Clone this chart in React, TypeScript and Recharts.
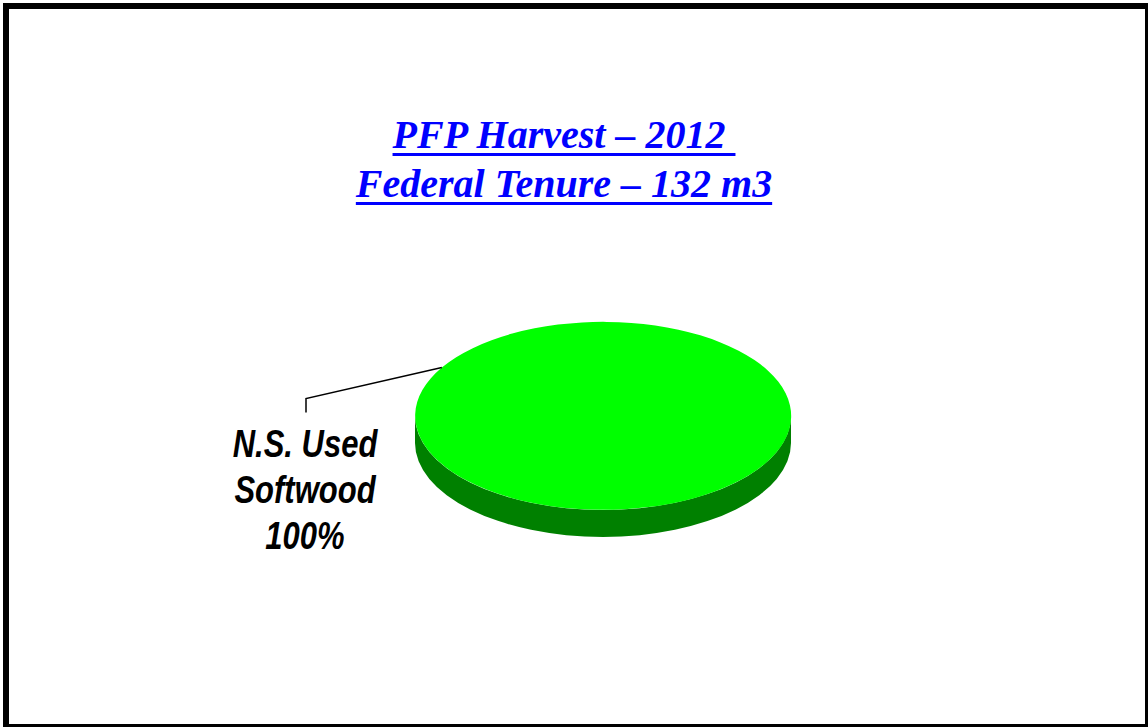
import React from "react"
import { Pie, PieChart, Sector } from "recharts"

// harvest by species group, federal tenure 2012 (m3 share)
const categories = ["N.S. Used Softwood"]
const shares = [100]
const titleLines = ["PFP Harvest \u2013 2012\u00a0", "Federal Tenure \u2013 132 m3"]

const data = categories.map((name, i) => ({ name, value: shares[i] }))

const W = 1148
const H = 727
const TILT = 0.5 // vertical squash of the pie face
const DEPTH = 27 // thickness of the disc
const TOP = "#00FF00"
const SIDE = "#008000"

function DiscSlice(props: any) {
  const { cx, cy, outerRadius } = props
  const r = outerRadius
  const ry = r * TILT
  const side = [
    `M ${cx - r} ${cy}`,
    `L ${cx - r} ${cy + DEPTH}`,
    `A ${r} ${ry} 0 0 0 ${cx + r} ${cy + DEPTH}`,
    `L ${cx + r} ${cy}`,
    `A ${r} ${ry} 0 0 1 ${cx - r} ${cy}`,
    "Z",
  ].join(" ")
  return (
    <g>
      <path d={side} fill={SIDE} />
      <g transform={`translate(0 ${cy}) scale(1 ${TILT}) translate(0 ${-cy})`}>
        <Sector {...props} fill={TOP} stroke="none" />
      </g>
    </g>
  )
}

const LABEL_X = 305
const LABEL_Y = 457
const LABEL_GAP = 46

function SliceLabel(props: any) {
  const { cx, cy, midAngle, outerRadius, name, percent } = props
  const rad = (midAngle * Math.PI) / 180
  const ax = cx + outerRadius * Math.cos(rad)
  const ay = cy - outerRadius * Math.sin(rad) * TILT
  const words = String(name).split(" ")
  const lines = [words.slice(0, 2).join(" "), words.slice(2).join(" "), `${Math.round(percent * 100)}%`]
  return (
    <g>
      <polyline
        points={`${ax},${ay} ${LABEL_X + 1},${ay + 31} ${LABEL_X + 1},${ay + 45}`}
        fill="none"
        stroke="#000"
        strokeWidth={1.5}
      />
      {lines.map((t, i) => (
        <text
          key={i}
          transform={`translate(${LABEL_X} ${LABEL_Y + i * LABEL_GAP}) scale(1 1.25)`}
          x={0}
          y={0}
          textAnchor="middle"
          fill="#000"
          style={{ fontFamily: "'Liberation Sans', Arial, sans-serif", fontWeight: 700, fontStyle: "italic", fontSize: 31 }}
        >
          {t}
        </text>
      ))}
    </g>
  )
}

export default function App() {
  return (
    <div style={{ position: "fixed", left: 0, top: 0, width: W, height: H, overflow: "hidden", background: "#fff" }}>
      <div
        style={{
          position: "absolute",
          left: 3,
          top: 3,
          width: W,
          height: H,
          border: "6px solid #000",
          boxSizing: "border-box",
        }}
      />
      <div style={{ position: "absolute", left: 0, top: 0 }}>
        <PieChart width={W} height={H} margin={{ top: 0, right: 0, bottom: 0, left: 0 }}>
          <Pie
            data={data}
            dataKey="value"
            nameKey="name"
            cx={603}
            cy={416}
            outerRadius={188}
            startAngle={-31}
            endAngle={329}
            stroke="none"
            shape={DiscSlice}
            activeShape={DiscSlice}
            label={SliceLabel}
            labelLine={false}
            isAnimationActive={false}
          />
        </PieChart>
      </div>
      <div
        style={{
          position: "absolute",
          left: 0,
          top: 110,
          width: 1128,
          textAlign: "center",
          fontFamily: "'Liberation Serif', 'Times New Roman', serif",
          fontWeight: 700,
          fontStyle: "italic",
          fontSize: 40,
          lineHeight: "49px",
          color: "#0000FF",
        }}
      >
        {titleLines.map((t, i) => (
          <div
            key={i}
            style={{ textDecoration: "underline", textDecorationThickness: 3, textUnderlineOffset: 5 }}
          >
            {t}
          </div>
        ))}
      </div>
    </div>
  )
}
